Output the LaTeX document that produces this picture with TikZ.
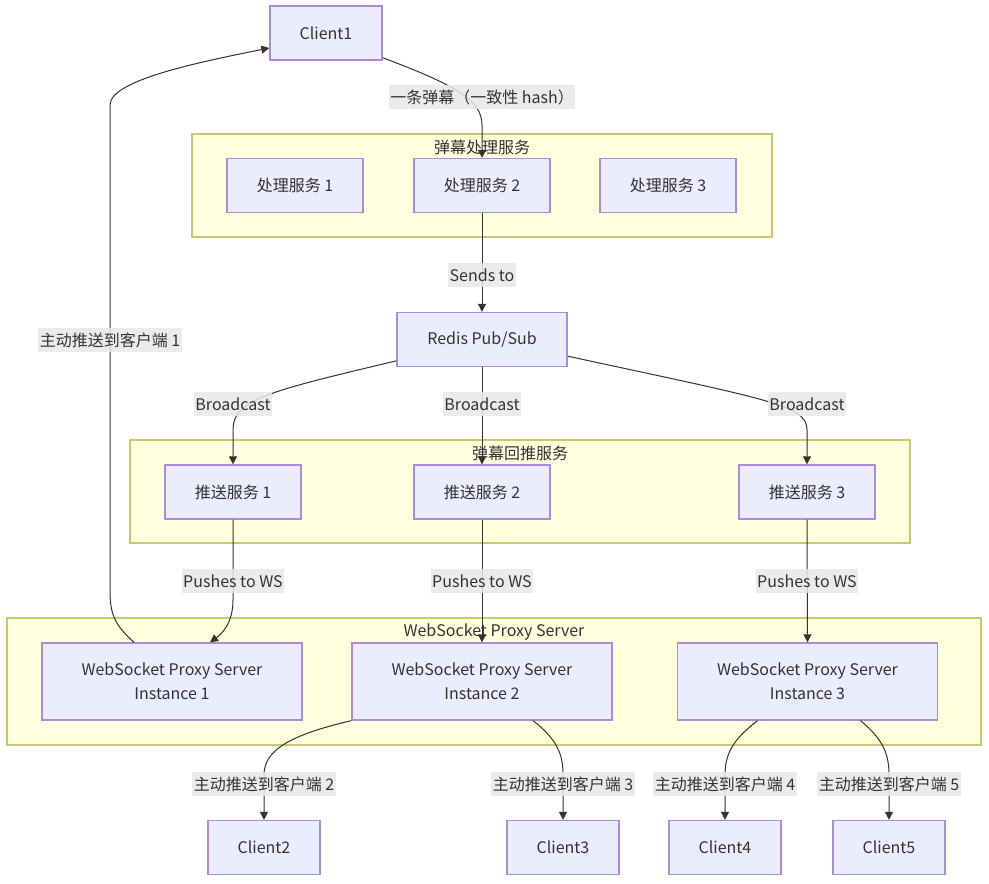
\documentclass[tikz,border=0pt]{standalone}
\usepackage{fontspec}
\setmainfont{Noto Sans CJK SC}
\usetikzlibrary{arrows.meta,calc}
\definecolor{nodefill}{HTML}{ECECFF}
\definecolor{nodeline}{HTML}{A98BE0}
\definecolor{clfill}{HTML}{FFFFDE}
\definecolor{clline}{HTML}{C8C870}
\definecolor{txt}{HTML}{333333}
\definecolor{lblbg}{HTML}{E8E8E8}
\tikzset{
  box/.style={draw=nodeline, fill=nodefill, line width=1pt, text=txt, align=center,
    inner sep=0pt, font=\fontsize{12}{18}\selectfont},
  smallbox/.style={box, minimum width=84pt, minimum height=40.5pt},
  midbox/.style={box, minimum width=102pt, minimum height=40.5pt},
  redisbox/.style={box, minimum width=127.5pt, minimum height=40.5pt},
  wsbox/.style={box, minimum width=195pt, minimum height=57.75pt},
  cluster/.style={draw=clline, fill=clfill, line width=0.9pt, inner sep=0pt},
  ctitle/.style={text=txt, inner sep=0pt, font=\fontsize{12}{14}\selectfont},
  edge/.style={draw=txt, line width=0.75pt, -{Triangle[length=6pt,width=6pt]}},
  elabel/.style={fill=lblbg, fill opacity=0.85, text opacity=1, text=txt, inner xsep=1pt,
    inner ysep=0pt, minimum height=18pt, font=\fontsize{12}{14}\selectfont},
}
\begin{document}
\begin{tikzpicture}[x=0.75pt, y=-0.75pt]
\useasboundingbox (0,0) rectangle (989,883);
% clusters
\node[cluster, minimum width=435pt, minimum height=77.25pt] (cA) at (482,185.5) {};
\node[ctitle] (tA) at (482,147) {弹幕处理服务};
\node[cluster, minimum width=585pt, minimum height=77.25pt] (cB) at (520,491.5) {};
\node[ctitle] (tB) at (520,453) {弹幕回推服务};
\node[cluster, minimum width=730.5pt, minimum height=95.25pt] (cC) at (494,681.5) {};
\node[ctitle] (tC) at (494,632) {WebSocket Proxy Server};
% nodes
\node[smallbox] (client1) at (326,33) {Client1};
\node[midbox] (p1) at (295,185.5) {处理服务 1};
\node[midbox] (p2) at (482,185.5) {处理服务 2};
\node[midbox] (p3) at (668,185.5) {处理服务 3};
\node[redisbox] (redis) at (482,339.5) {Redis Pub/Sub};
\node[midbox] (s1) at (233,492) {推送服务 1};
\node[midbox] (s2) at (482,492) {推送服务 2};
\node[midbox] (s3) at (807,492) {推送服务 3};
\node[wsbox] (ws1) at (172,681.5) {WebSocket Proxy Server\\Instance 1};
\node[wsbox] (ws2) at (482,681.5) {WebSocket Proxy Server\\Instance 2};
\node[wsbox] (ws3) at (807.5,681.5) {WebSocket Proxy Server\\Instance 3};
\node[smallbox] (client2) at (264,847.5) {Client2};
\node[smallbox] (client3) at (563,847.5) {Client3};
\node[smallbox] (client4) at (725,847.5) {Client4};
\node[smallbox] (client5) at (889,847.5) {Client5};
% edges
\draw[edge] ($(client1.south east)+(0,-3)$) .. controls (455,85) and (482,100) .. (482,125) -- (p2.north);
\draw[edge] (p2.south) -- (redis.north);
\draw[edge] (redis.194) .. controls (265,392) and (233,400) .. (233,430) -- (s1.north);
\draw[edge] (redis.south) -- (s2.north);
\draw[edge] (redis.349) .. controls (770,400) and (807,405) .. (807,430) -- (s3.north);
\draw[edge] (s1.south) -- (233,600) .. controls (233,625) and (220,635) .. ($(ws1.north)+(38,0)$);
\draw[edge] (s2.south) -- (ws2.north);
\draw[edge] (s3.south) -- (ws3.north);
\draw[edge] ($(ws1.north)+(-38,0)$) .. controls (115,625) and (110,615) .. (110,590) -- (110,105) .. controls (110,80) and (200,62) .. ($(client1.west)+(0,15)$);
\draw[edge] (ws2.south west) .. controls (290,735) and (264,750) .. (264,775) -- (client2.north);
\draw[edge] ($(ws2.south)+(51,0)$) .. controls (558,740) and (563,755) .. (563,775) -- (client3.north);
\draw[edge] ($(ws3.south)+(-50,0)$) .. controls (732,740) and (725,755) .. (725,775) -- (client4.north);
\draw[edge] ($(ws3.south)+(53,0)$) .. controls (884,740) and (889,755) .. (889,775) -- (client5.north);
% labels
\node[elabel] (l1) at (482,97) {一条弹幕（一致性 hash）};
\node[elabel] (l2) at (482,275) {Sends to};
\node[elabel] (l3) at (233,404) {Broadcast};
\node[elabel] (l4) at (482,404) {Broadcast};
\node[elabel] (l5) at (807,404) {Broadcast};
\node[elabel] (l6) at (233,581) {Pushes to WS};
\node[elabel] (l7) at (482,581) {Pushes to WS};
\node[elabel] (l8) at (807,581) {Pushes to WS};
\node[elabel] (l9) at (110,340) {主动推送到客户端 1};
\node[elabel] (l10) at (264,784) {主动推送到客户端 2};
\node[elabel] (l11) at (563,784) {主动推送到客户端 3};
\node[elabel] (l12) at (725,784) {主动推送到客户端 4};
\node[elabel] (l13) at (889,784) {主动推送到客户端 5};
\end{tikzpicture}
\end{document}
